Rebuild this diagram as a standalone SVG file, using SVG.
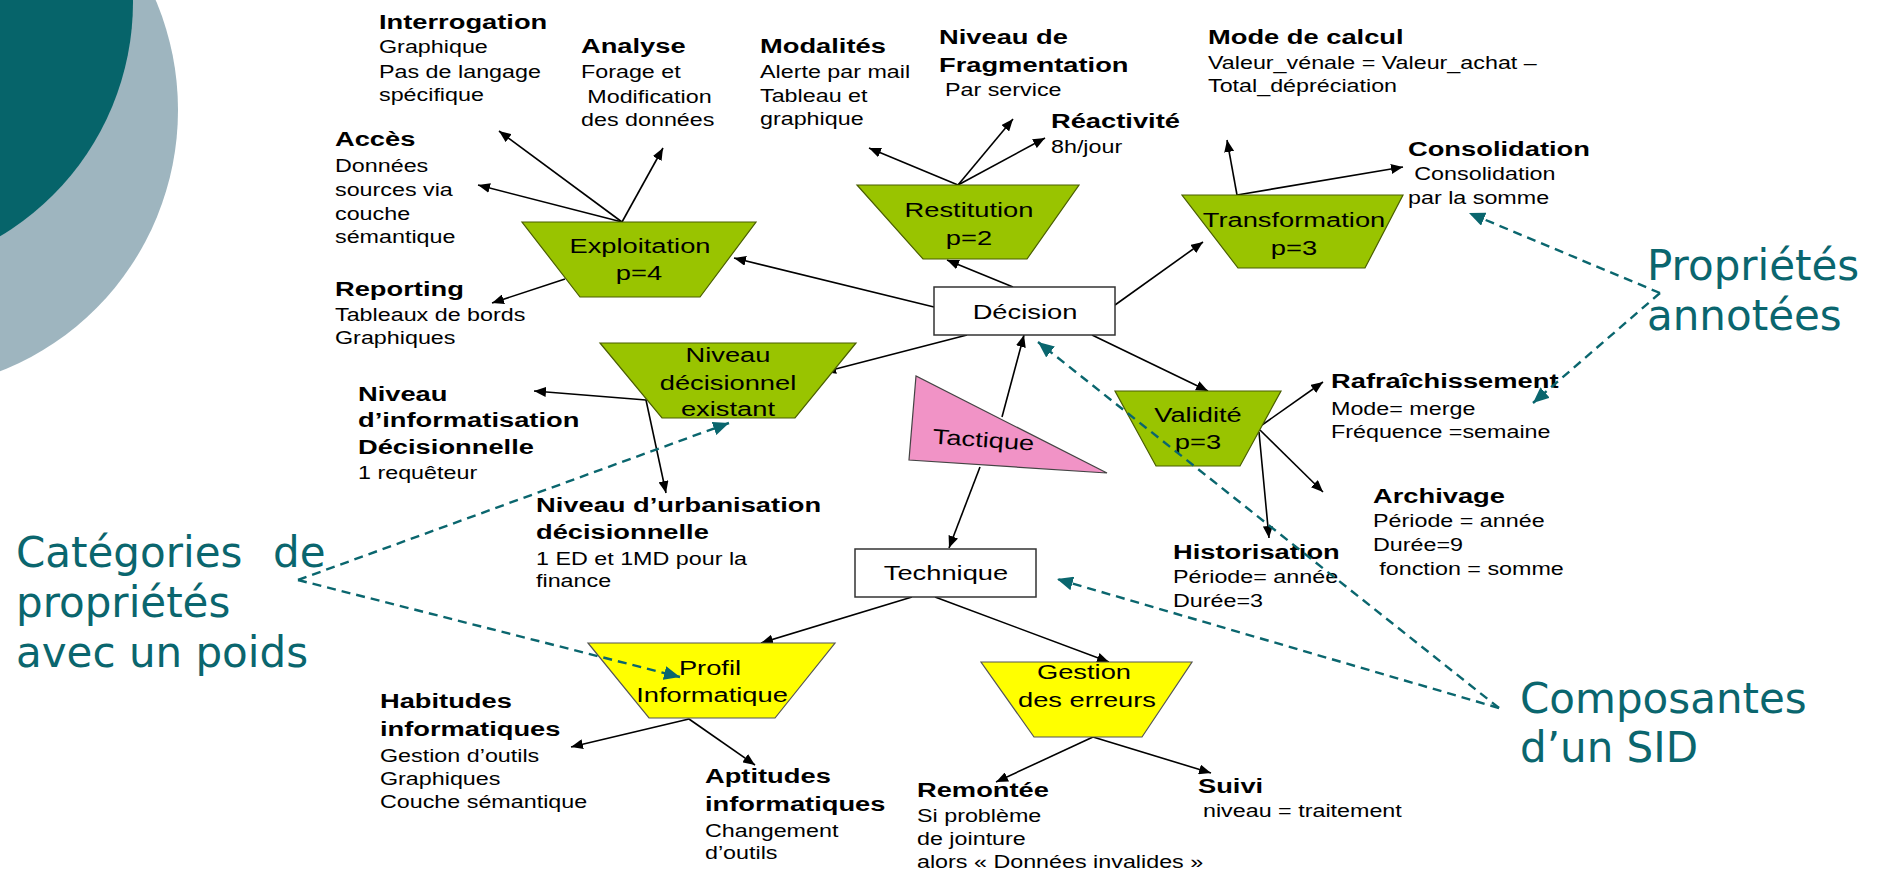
<svg xmlns="http://www.w3.org/2000/svg" width="1878" height="874" viewBox="0 0 1878 874">
<style>
.lb{font-family:"Liberation Sans",Arial,sans-serif;font-weight:bold;font-size:21px;fill:#000;transform-box:fill-box;transform-origin:0 0;transform:scaleX(1.3)}
.lr{font-family:"Liberation Sans",Arial,sans-serif;font-size:18.5px;fill:#000;transform-box:fill-box;transform-origin:0 0;transform:scaleX(1.26)}
.nt{font-family:"Liberation Sans",Arial,sans-serif;font-size:21px;fill:#000;text-anchor:middle;transform-box:fill-box;transform-origin:center;transform:scaleX(1.3)}
.tl{font-family:"DejaVu Sans",Verdana,sans-serif;font-size:42px;fill:#0a666e}
.green{fill:#99c400;stroke:#4a5e00;stroke-width:1.2}
.yellow{fill:#ffff00;stroke:#555;stroke-width:1.2}
.pink{fill:#f193c6;stroke:#444;stroke-width:1.2}
.box{fill:#fff;stroke:#333;stroke-width:1.5}
.c{fill:none;stroke:#000;stroke-width:1.6;marker-end:url(#ah)}
.d{fill:none;stroke:#0a666e;stroke-width:2.4;stroke-dasharray:9 6;marker-end:url(#th)}
</style>
<defs>
<marker id="ah" viewBox="0 0 12 10" refX="12" refY="5" markerWidth="12" markerHeight="10" markerUnits="userSpaceOnUse" orient="auto"><path d="M0,0 L12,5 L0,10 z" fill="#000"/></marker>
<marker id="th" viewBox="0 0 16 14" refX="16" refY="7" markerWidth="16" markerHeight="14" markerUnits="userSpaceOnUse" orient="auto"><path d="M0,0 L16,7 L0,14 z" fill="#0a666e"/></marker>
</defs>
<rect width="1878" height="874" fill="#fff"/>
<g id="background">
<ellipse cx="-100" cy="110" rx="278" ry="280" fill="#9eb5bf"/>
<circle cx="-140" cy="2" r="273" fill="#06646a"/>
</g>
<g id="connectors">
<line class="c" x1="622" y1="222" x2="499" y2="131"/>
<line class="c" x1="622" y1="222" x2="478" y2="185"/>
<line class="c" x1="622" y1="222" x2="663" y2="148"/>
<line class="c" x1="565" y1="279" x2="492" y2="303"/>
<line class="c" x1="934" y1="307" x2="734" y2="258"/>
<line class="c" x1="1013" y1="287" x2="947" y2="260"/>
<line class="c" x1="958" y1="185" x2="869" y2="148"/>
<line class="c" x1="958" y1="185" x2="1013" y2="119"/>
<line class="c" x1="958" y1="185" x2="1045" y2="138"/>
<line class="c" x1="1115" y1="305" x2="1203" y2="242"/>
<line class="c" x1="1237" y1="195" x2="1227" y2="140"/>
<line class="c" x1="1237" y1="195" x2="1403" y2="167"/>
<line class="c" x1="967" y1="335" x2="824" y2="372"/>
<line class="c" x1="646" y1="400" x2="534" y2="391"/>
<line class="c" x1="646" y1="400" x2="666" y2="493"/>
<line class="c" x1="1092" y1="335" x2="1208" y2="391"/>
<line class="c" x1="1262" y1="425" x2="1323" y2="382"/>
<line class="c" x1="1260" y1="430" x2="1323" y2="492"/>
<line class="c" x1="1259" y1="432" x2="1269" y2="538"/>
<line class="c" x1="1002" y1="417" x2="1024" y2="335"/>
<line class="c" x1="980" y1="467" x2="949" y2="548"/>
<line class="c" x1="912" y1="597" x2="761" y2="643"/>
<line class="c" x1="935" y1="597" x2="1109" y2="662"/>
<line class="c" x1="689" y1="719" x2="571" y2="747"/>
<line class="c" x1="689" y1="719" x2="755" y2="765"/>
<line class="c" x1="1093" y1="737" x2="996" y2="782"/>
<line class="c" x1="1093" y1="737" x2="1211" y2="773"/>
</g>
<g id="decision"><rect class="box" x="934" y="287" width="181" height="48"/><text class="nt" x="1025" y="319">Décision</text></g>
<g id="technique"><rect class="box" x="855" y="549" width="181" height="48"/><text class="nt" x="946" y="580">Technique</text></g>
<g id="exploitation"><polygon class="green" points="522,222 756,222 700,297 580,297"/><text class="nt" x="640" y="253">Exploitation</text><text class="nt" x="639" y="280">p=4</text></g>
<g id="restitution"><polygon class="green" points="857,185 1079,185 1027,259 923,259"/><text class="nt" x="969" y="217">Restitution</text><text class="nt" x="969" y="245">p=2</text></g>
<g id="transformation"><polygon class="green" points="1182,195 1403,195 1365,268 1238,268"/><text class="nt" x="1294" y="227">Transformation</text><text class="nt" x="1294" y="255">p=3</text></g>
<g id="niveau-decisionnel"><polygon class="green" points="600,343 856,343 795,418 662,418"/><text class="nt" x="728" y="362">Niveau</text><text class="nt" x="728" y="390">décisionnel</text><text class="nt" x="728" y="416">existant</text></g>
<g id="validite"><polygon class="green" points="1115,391 1281,391 1240,466 1156,466"/><text class="nt" x="1198" y="422">Validité</text><text class="nt" x="1198" y="449">p=3</text></g>
<g id="tactique"><polygon class="pink" points="916,376 909,460 1107,473"/><g transform="rotate(4 983 447)"><text class="nt" x="983" y="447">Tactique</text></g></g>
<g id="profil"><polygon class="yellow" points="588,643 835,643 775,718 649,718"/><text class="nt" x="710" y="675">Profil</text><text class="nt" x="712" y="702">Informatique</text></g>
<g id="gestion"><polygon class="yellow" points="981,662 1192,662 1142,737 1034,737"/><text class="nt" x="1084" y="679">Gestion</text><text class="nt" x="1087" y="707">des erreurs</text></g>

<g id="lbl-interrogation"><text class="lb" x="379" y="29">Interrogation</text><text class="lr" x="379" y="53">Graphique<tspan x="379" y="78">Pas de langage</tspan><tspan x="379" y="101">spécifique</tspan></text></g>
<g id="lbl-acces"><text class="lb" x="335" y="146">Accès</text><text class="lr" x="335" y="172">Données<tspan x="335" y="196">sources  via</tspan><tspan x="335" y="220">couche</tspan><tspan x="335" y="243">sémantique</tspan></text></g>
<g id="lbl-reporting"><text class="lb" x="335" y="296">Reporting</text><text class="lr" x="335" y="321">Tableaux de bords<tspan x="335" y="344">Graphiques</tspan></text></g>
<g id="lbl-analyse"><text class="lb" x="581" y="53">Analyse</text><text class="lr" x="581" y="78">Forage et<tspan x="586" y="103">Modification</tspan><tspan x="581" y="126">des données</tspan></text></g>
<g id="lbl-modalites"><text class="lb" x="760" y="53">Modalités</text><text class="lr" x="760" y="78">Alerte par mail<tspan x="760" y="102">Tableau et</tspan><tspan x="760" y="125">graphique</tspan></text></g>
<g id="lbl-fragmentation"><text class="lb" x="939" y="44">Niveau de<tspan x="939" y="72">Fragmentation</tspan></text><text class="lr" x="945" y="96">Par service</text></g>
<g id="lbl-reactivite"><text class="lb" x="1051" y="128">Réactivité</text><text class="lr" x="1051" y="153">8h/jour</text></g>
<g id="lbl-mode-calcul"><text class="lb" x="1208" y="44">Mode de calcul</text><text class="lr" x="1208" y="69">Valeur_vénale = Valeur_achat –<tspan x="1208" y="92">Total_dépréciation</tspan></text></g>
<g id="lbl-consolidation"><text class="lb" x="1408" y="156">Consolidation</text><text class="lr" x="1408" y="204"><tspan x="1413" y="180">Consolidation</tspan><tspan x="1408" y="204">par la somme</tspan></text></g>
<g id="lbl-rafraichissement"><text class="lb" x="1331" y="388">Rafraîchissement</text><text class="lr" x="1331" y="415">Mode= merge<tspan x="1331" y="438">Fréquence =semaine</tspan></text></g>
<g id="lbl-archivage"><text class="lb" x="1373" y="503">Archivage</text><text class="lr" x="1373" y="527">Période = année<tspan x="1373" y="551">Durée=9</tspan><tspan x="1378" y="575">fonction = somme</tspan></text></g>
<g id="lbl-historisation"><text class="lb" x="1173" y="559">Historisation</text><text class="lr" x="1173" y="583">Période= année<tspan x="1173" y="607">Durée=3</tspan></text></g>
<g id="lbl-informatisation"><text class="lb" x="358" y="401">Niveau<tspan x="358" y="427">d’informatisation</tspan><tspan x="358" y="454">Décisionnelle</tspan></text><text class="lr" x="358" y="479">1 requêteur</text></g>
<g id="lbl-urbanisation"><text class="lb" x="536" y="512">Niveau d’urbanisation<tspan x="536" y="539">décisionnelle</tspan></text><text class="lr" x="536" y="565">1 ED et 1MD pour la<tspan x="536" y="587">finance</tspan></text></g>
<g id="lbl-habitudes"><text class="lb" x="380" y="708">Habitudes<tspan x="380" y="736">informatiques</tspan></text><text class="lr" x="380" y="762">Gestion d’outils<tspan x="380" y="785">Graphiques</tspan><tspan x="380" y="808">Couche sémantique</tspan></text></g>
<g id="lbl-aptitudes"><text class="lb" x="705" y="783">Aptitudes<tspan x="705" y="811">informatiques</tspan></text><text class="lr" x="705" y="837">Changement<tspan x="705" y="859">d’outils</tspan></text></g>
<g id="lbl-remontee"><text class="lb" x="917" y="797">Remontée</text><text class="lr" x="917" y="822">Si problème<tspan x="917" y="845">de jointure</tspan><tspan x="917" y="868">alors « Données invalides »</tspan></text></g>
<g id="lbl-suivi"><text class="lb" x="1198" y="793">Suivi</text><text class="lr" x="1203" y="817">niveau = traitement</text></g>

<g id="annotation-connectors">
<line class="d" x1="1660" y1="293" x2="1469" y2="213"/>
<line class="d" x1="1660" y1="293" x2="1533" y2="403"/>
<line class="d" x1="298" y1="580" x2="729" y2="423"/>
<line class="d" x1="298" y1="580" x2="680" y2="677"/>
<line class="d" x1="1499" y1="708" x2="1057" y2="579"/>
<line class="d" x1="1499" y1="708" x2="1038" y2="342"/>
</g>
<g id="note-proprietes"><text class="tl" x="1647" y="280">Propriétés<tspan x="1647" y="330">annotées</tspan></text></g>
<g id="note-categories"><text class="tl" x="16" y="567">Catégories<tspan x="273" y="567">de</tspan><tspan x="16" y="617">propriétés</tspan><tspan x="16" y="667">avec un poids</tspan></text></g>
<g id="note-composantes"><text class="tl" x="1520" y="713">Composantes<tspan x="1520" y="762">d’un SID</tspan></text></g>
</svg>
